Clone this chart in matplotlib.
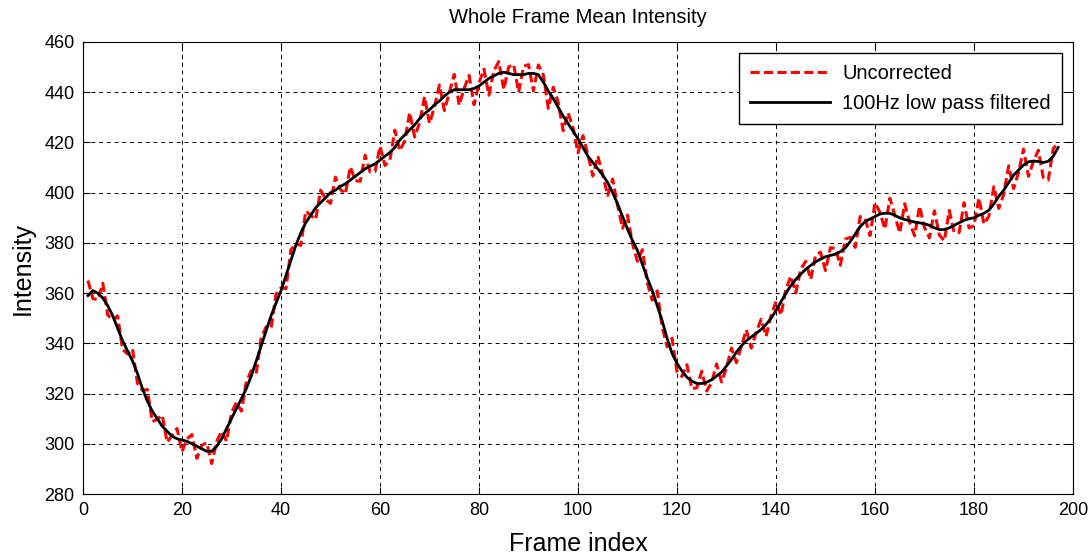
import numpy as np
import matplotlib
matplotlib.use("Agg")
import matplotlib.pyplot as plt

plt.rcParams['font.family'] = ['Liberation Sans', 'DejaVu Sans']

# 100Hz low pass filtered curve, one value per frame (1..197)
filtered = [
    359, 361, 360, 358, 355, 351, 346, 341, 337, 333,
    328, 322, 317, 313, 310, 307, 305, 303, 302, 301.5,
    301, 300, 299, 298, 297, 297, 299, 302, 306, 310,
    314, 318, 322, 327, 333, 339, 345, 351, 356, 361,
    367, 373, 379, 384, 388, 391, 394, 396, 398, 400,
    401, 402.5, 403.5, 405, 406.5, 408, 409.5, 410.5, 411.5, 413,
    414.5, 416, 418, 421, 423, 425, 427, 429.5, 431.5, 433,
    435, 436.5, 438.5, 440, 441, 441, 441, 441, 441.5, 442.5,
    444, 445.5, 446.5, 447.5, 448, 447.5, 447, 447, 447, 447.5,
    447.5, 447, 444, 440.5, 437.5, 434, 430.5, 427.5, 424.5, 421.5,
    418, 414.5, 412, 409.5, 407, 404, 400, 395.5, 390.5, 385.5,
    381, 377, 371.5, 366, 361, 355, 349, 342, 336, 332,
    329, 326.5, 325, 324, 324, 324.5, 325.5, 327, 328.5, 331,
    333.5, 336.5, 339, 341, 342.5, 344, 345.5, 347.5, 350, 353,
    356.5, 360, 363, 365.5, 367.5, 369.5, 371, 372.5, 373.5, 374.5,
    375, 375.5, 376.5, 378, 380.5, 383.5, 386.5, 388.5, 389.5, 390.5,
    391.5, 391.8, 391.8, 391, 390, 389.3, 388.8, 388.3, 388, 387.6,
    387, 386, 385.3, 385.3, 386, 387, 388, 389, 389.6, 390,
    391, 391.8, 393, 395.5, 398.5, 401, 404, 407, 409, 411,
    412.3, 412.6, 412.4, 412, 412.5, 414.5, 418,
]

# flicker of the uncorrected signal around the filtered one, per frame
flicker = [
    6.0, -3.2, -2.6, 5.9, -3.7, -1.7, 4.9, -3.5, -1.2, 4.8,
    -3.9, -0.7, 4.6, -4.2, -0.2, 4.4, -4.4, 0.4, 4.1, -4.7,
    0.9, 3.7, -4.8, 1.4, 3.4, -4.9, 1.9, 3.0, -5.0, 2.4,
    2.5, -5.0, 2.8, 2.1, -5.0, 3.2, 1.6, -4.9, 3.6, 1.1,
    -5.2, 4.3, 0.6, -5.0, 4.7, 0.0, -4.7, 5.0, -0.6, -4.3,
    5.2, -1.2, -4.0, 5.3, -1.7, -3.5, 5.4, -2.3, -3.1, 5.5,
    -3.7, -3.1, 6.9, -4.3, -2.4, 6.9, -4.8, -1.7, 6.7, -5.4,
    -1.0, 6.4, -5.8, -0.2, 6.1, -6.2, 0.5, 5.7, -6.5, 1.2,
    5.2, -6.7, 2.0, 4.7, -6.9, 2.6, 4.1, -7.0, 3.3, 3.5,
    -7.0, 3.9, 2.9, -6.9, 4.5, 1.9, -5.8, 4.3, 1.3, -5.6,
    4.7, 0.6, -5.4, 5.1, 0.0, -5.1, 5.4, -0.6, -4.7, 5.6,
    -1.3, -4.3, 5.8, -1.9, -3.8, 5.9, -2.5, -3.4, 6.0, -3.2,
    -2.2, 5.0, -3.1, -1.7, 4.9, -3.5, -1.2, 4.8, -3.9, -0.7,
    4.6, -4.2, -0.2, 4.4, -4.4, 0.4, 4.1, -4.7, 0.9, 3.7,
    -5.3, 1.5, 3.7, -5.4, 2.0, 3.2, -5.5, 2.6, 2.8, -5.5,
    3.1, 2.3, -5.4, 3.5, 1.7, -5.3, 4.0, 1.2, -6.6, 5.5,
    0.7, -6.3, 6.0, 0.0, -6.0, 6.3, -0.7, -5.5, 6.6, -1.5,
    -5.0, 6.8, -2.2, -4.5, 6.9, -2.9, -3.9, 7.0, -3.7, -3.1,
    6.9, -4.3, -2.4, 6.9, -4.8, -1.7, 6.7, -5.4, -1.0, 6.4,
    -5.8, -0.2, 4.5, -6.0, -7.5, 3.0, 2.0,
]

frames = np.arange(1, len(filtered) + 1)
uncorrected = np.array(filtered) + np.array(flicker)

fig = plt.figure(figsize=(10.92, 5.57), dpi=100)
ax = fig.add_axes([0.076, 0.1131, 0.9066, 0.8115])

ax.plot(frames, uncorrected, color='red', linestyle=(0, (3.0, 1.4)), linewidth=2.2,
        label='Uncorrected')
ax.plot(frames, filtered, color='black', linewidth=2.0, label='100Hz low pass filtered')

ax.set_xlim(0, 200)
ax.set_ylim(280, 460)
ax.set_xticks(np.arange(0, 201, 20))
ax.set_yticks(np.arange(280, 461, 20))
ax.grid(True, color='black', linestyle=(0, (4, 4)), linewidth=0.7)
ax.tick_params(direction='in', top=True, right=True, length=5, labelsize=13, pad=6)
for s in ax.spines.values():
    s.set_linewidth(0.8)

ax.set_title("Whole Frame Mean Intensity", fontsize=14.5, pad=14)
ax.set_xlabel("Frame index", fontsize=18, labelpad=9)
ax.set_ylabel("Intensity", fontsize=18, labelpad=7)

leg = ax.legend(loc='upper right', fontsize=14.5, fancybox=False, framealpha=1,
                edgecolor='black', borderaxespad=0.55, handlelength=4.0,
                labelspacing=0.55, borderpad=0.55, handletextpad=0.6)
leg.get_frame().set_linewidth(1.0)

plt.savefig("out.png", dpi=100)
